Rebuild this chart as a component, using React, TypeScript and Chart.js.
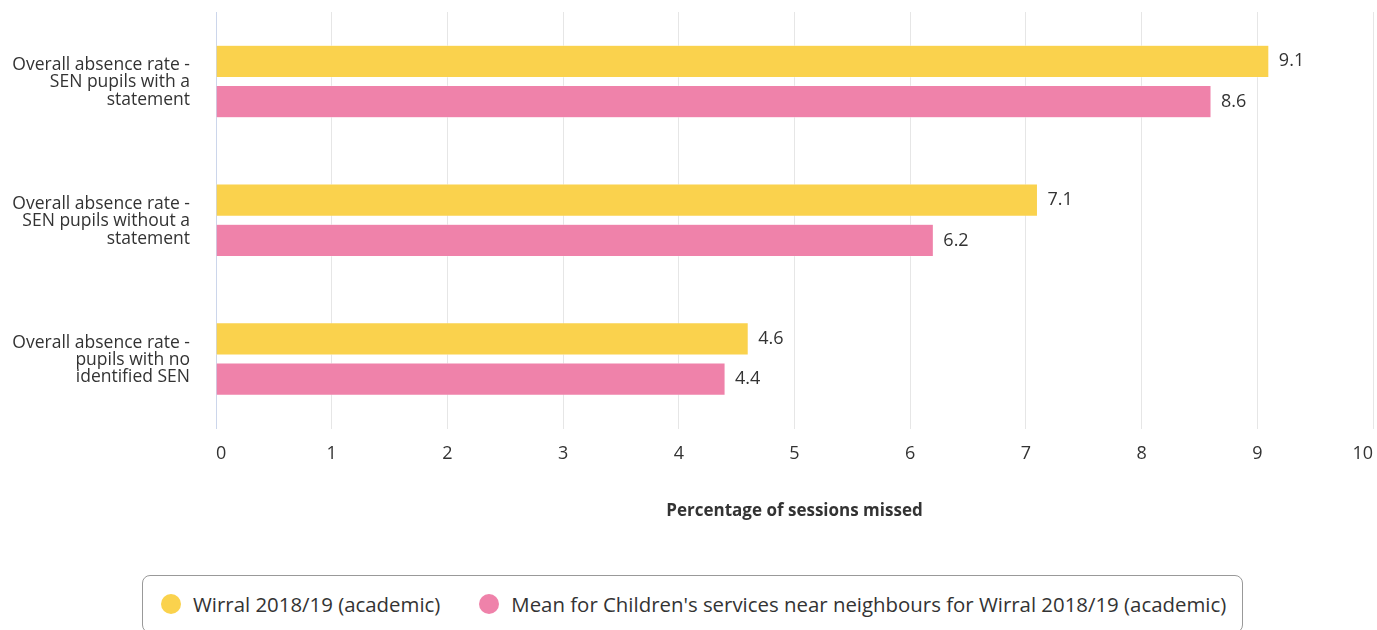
import React, { useEffect, useRef } from "react";
import { Chart, registerables } from "chart.js";

Chart.register(...registerables);

const categories: string[][] = [
  ["Overall absence rate -", "SEN pupils with a", "statement"],
  ["Overall absence rate -", "SEN pupils without a", "statement"],
  ["Overall absence rate -", "pupils with no", "identified SEN"],
];
const seriesNames = [
  "Wirral 2018/19 (academic)",
  "Mean for Children's services near neighbours for Wirral 2018/19 (academic)",
];
const wirralValues = [9.1, 7.1, 4.6];
const neighbourValues = [8.6, 6.2, 4.4];
const xMin = 0;
const xMax = 10;
const xStep = 1;
const axisTitle = "Percentage of sessions missed";
const seriesColors = ["#FAD24D", "#EF82AA"];

const FONT = "'Open Sans', 'Noto Sans', sans-serif";
const TEXT = "#333333";

const valueLabels = {
  id: "valueLabels",
  afterDatasetsDraw(chart: any) {
    const ctx = chart.ctx;
    ctx.save();
    ctx.font = `18px ${FONT}`;
    ctx.fillStyle = TEXT;
    ctx.textAlign = "left";
    ctx.textBaseline = "middle";
    chart.data.datasets.forEach((ds: any, di: number) => {
      const meta = chart.getDatasetMeta(di);
      meta.data.forEach((bar: any, i: number) => {
        ctx.fillText(String(ds.data[i]), bar.x + 10, bar.y);
      });
    });
    ctx.restore();
  },
};

export default function App() {
  const ref = useRef<HTMLCanvasElement | null>(null);

  useEffect(() => {
    if (!ref.current) return;
    const chart = new Chart(ref.current, {
      type: "bar",
      data: {
        labels: categories,
        datasets: [
          {
            label: seriesNames[0],
            data: wirralValues,
            backgroundColor: seriesColors[0],
            borderColor: "#ffffff",
            borderWidth: 0.5,
            categoryPercentage: 0.58,
            barPercentage: 0.8,
          },
          {
            label: seriesNames[1],
            data: neighbourValues,
            backgroundColor: seriesColors[1],
            borderColor: "#ffffff",
            borderWidth: 0.5,
            categoryPercentage: 0.58,
            barPercentage: 0.8,
          },
        ],
      },
      options: {
        indexAxis: "y",
        responsive: false,
        animation: false,
        layout: { padding: { top: 12, left: 0, right: 4, bottom: 19 } },
        plugins: {
          legend: { display: false },
          tooltip: { enabled: false },
        },
        scales: {
          x: {
            type: "linear",
            min: xMin,
            max: xMax,
            ticks: {
              stepSize: xStep,
              align: "inner",
              padding: 15,
              color: TEXT,
              font: { family: FONT, size: 18 },
            },
            grid: {
              color: (c: any) => (c.index === 0 ? "rgba(0,0,0,0)" : "#e6e6e6"),
              drawTicks: false,
            },
            border: { display: false },
            title: {
              display: true,
              text: axisTitle,
              color: TEXT,
              font: { family: FONT, size: 17, weight: "bold" },
              padding: { top: 20.5, bottom: 0 },
            },
            afterFit: (s: any) => {
              s.paddingLeft = 0;
              s.paddingRight = 0;
            },
          },
          y: {
            type: "category",
            grid: { display: false, drawTicks: false },
            border: { display: true, color: "#ccd6eb", width: 1 },
            ticks: {
              padding: 26,
              labelOffset: 1,
              color: TEXT,
              font: { family: FONT, size: 17.5, lineHeight: "17.4px" },
            },
            afterFit: (s: any) => {
              s.width = 216;
              s.paddingTop = 0;
              s.paddingBottom = 0;
            },
          },
        },
      } as any,
      plugins: [valueLabels],
    });
    return () => chart.destroy();
  }, []);

  return (
    <div style={{ position: "absolute", left: 0, top: 0, width: 1377, height: 630, overflow: "hidden", background: "#fff" }}>
      <canvas ref={ref} width={1377} height={540} style={{ display: "block" }} />
      <div
        style={{
          position: "absolute",
          left: 142,
          top: 575,
          width: 1101,
          height: 58,
          boxSizing: "border-box",
          border: "1px solid #999999",
          borderRadius: 8,
          display: "flex",
          alignItems: "center",
          paddingLeft: 18,
          fontFamily: FONT,
          fontSize: 20.4,
          color: TEXT,
          whiteSpace: "nowrap",
        }}
      >
        {seriesNames.map((name, i) => (
          <div key={name} style={{ display: "flex", alignItems: "center", marginRight: i === 0 ? 39 : 0 }}>
            <span
              style={{
                display: "inline-block",
                width: 20,
                height: 20,
                borderRadius: "50%",
                background: seriesColors[i],
                marginRight: 12,
                flex: "none",
              }}
            />
            <span>{name}</span>
          </div>
        ))}
      </div>
    </div>
  );
}
